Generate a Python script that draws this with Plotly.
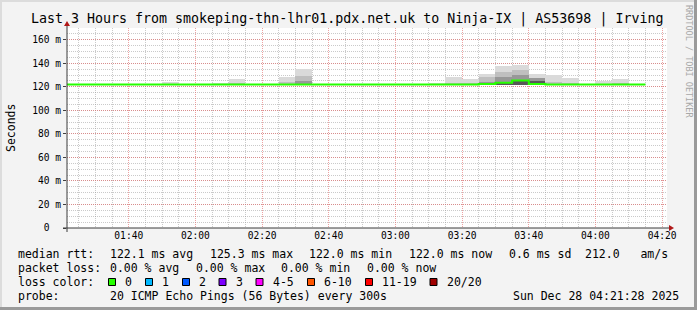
import plotly.graph_objects as go
import pandas as pd

# ---------------- data ----------------
title_text = "Last 3 Hours from smokeping-thn-lhr01.pdx.net.uk to Ninja-IX | AS53698 | Irving"
t_start = "2025-12-28 01:21:28"
t_end = "2025-12-28 04:21:28"
interval_start = pd.date_range("2025-12-28 01:20:00", periods=35, freq="5min")
step_ms = 300000

median_ms = [122.0, 122.0, 122.0, 122.0, 122.0, 122.0, 122.0, 122.0, 122.0, 122.0,
             122.0, 122.0, 122.0, 122.0, 122.0, 122.0, 122.0, 122.0, 122.0, 122.0,
             122.0, 122.0, 122.0, 122.0, 122.0, 122.3, 123.4, 125.3, 122.4, 122.0,
             122.0, 122.0, 122.0, 122.0, 122.0]
smoke_min = [121.8, 121.8, 121.8, 121.8, 121.8, 121.8, 121.8, 121.8, 121.8, 121.8,
             121.8, 121.8, 121.8, 121.8, 121.8, 121.8, 121.8, 121.8, 121.8, 121.8,
             121.8, 121.8, 121.8, 121.8, 121.8, 121.8, 121.8, 121.6, 121.8, 121.8,
             121.8, 121.8, 121.8, 121.8, 121.8]
smoke_max = [122.3, 122.3, 122.3, 122.3, 122.3, 122.3, 123.7, 122.3, 122.3, 123.5,
             126.3, 122.4, 122.4, 128.0, 135.3, 122.5, 122.3, 122.3, 122.3, 122.3,
             122.3, 122.3, 123.0, 128.0, 126.3, 130.5, 137.5, 138.5, 130.8, 130.3,
             127.4, 122.5, 124.8, 126.3, 122.3]
smoke_q2 = [121.8, 121.8, 121.8, 121.8, 121.8, 121.8, 121.8, 121.8, 121.8, 121.8,
            123.5, 121.8, 121.8, 124.0, 129.0, 121.8, 121.8, 121.8, 121.8, 121.8,
            121.8, 121.8, 121.8, 123.5, 123.0, 128.0, 133.0, 134.4, 127.8, 124.0,
            123.0, 121.8, 121.8, 123.0, 121.8]
smoke_q1 = [121.8, 121.8, 121.8, 121.8, 121.8, 121.8, 121.8, 121.8, 121.8, 121.8,
            121.8, 121.8, 121.8, 121.8, 125.0, 121.8, 121.8, 121.8, 121.8, 121.8,
            121.8, 121.8, 121.8, 121.8, 121.8, 124.0, 128.0, 130.0, 127.3, 121.8,
            121.8, 121.8, 121.8, 121.8, 121.8]
smoke_q0 = [121.8, 121.8, 121.8, 121.8, 121.8, 121.8, 121.8, 121.8, 121.8, 121.8,
            121.8, 121.8, 121.8, 121.8, 121.8, 121.8, 121.8, 121.8, 121.8, 121.8,
            121.8, 121.8, 121.8, 121.8, 121.8, 122.0, 123.5, 126.0, 125.0, 121.8,
            121.8, 121.8, 121.8, 121.8, 121.8]

y_tickvals = [0, 20, 40, 60, 80, 100, 120, 140, 160]
y_ticktext = ["0\u00a0\u00a0", "20 m", "40 m", "60 m", "80 m", "100 m", "120 m", "140 m", "160 m"]
y_title = "Seconds"

rtt_label = "median rtt:"
rtt_stats = ["122.1 ms avg", "125.3 ms max", "122.0 ms min", "122.0 ms now", "0.6 ms sd", "212.0\u00a0\u00a0\u00a0am/s"]
loss_label = "packet loss:"
loss_stats = ["0.00 % avg", "0.00 % max", "0.00 % min", "0.00 % now"]
color_label = "loss color:"
loss_names = ["0", "1", "2", "3", "4-5", "6-10", "11-19", "20/20"]
loss_colors = ["#26ff00", "#00b8ff", "#0059ff", "#7e00ff", "#ff00ff", "#ff5500", "#ff0000", "#a10000"]
probe_label = "probe:"
probe_text = "20 ICMP Echo Pings (56 Bytes) every 300s"
stamp_text = "Sun Dec 28 04:21:28 2025"
credit_text = "RRDTOOL / TOBI OETIKER"

# ---------------- layout geometry (pixels) ----------------
W, H = 697, 310
ML, MT, PW, PH = 67, 28, 600, 200
MR = W - ML - PW
MB = H - MT - PH

def px(x):
    return (x - ML) / PW

def py(y):
    return (MT + PH - y) / PH

FONT = "DejaVu Sans Mono"

fig = go.Figure()

smoke_layers = [(smoke_max, "#dadada"), (smoke_q2, "#bfbfbf"), (smoke_q1, "#989898"), (smoke_q0, "#585858")]
for top, col in smoke_layers:
    fig.add_trace(go.Bar(
        x=interval_start, y=[t - b for t, b in zip(top, smoke_min)], base=smoke_min,
        width=step_ms, offset=0, marker_color=col, marker_line_width=0,
        hoverinfo="skip", showlegend=False))

line_x = list(interval_start) + [interval_start[-1] + pd.Timedelta(minutes=5)]
line_y = median_ms + [median_ms[-1]]
fig.add_trace(go.Scatter(x=line_x, y=line_y, mode="lines", line_shape="hv",
                         line=dict(color=loss_colors[0], width=2), showlegend=False,
                         hoverinfo="skip"))

major_grid = "rgba(225,100,100,0.6)"
minor_grid = "rgba(150,150,150,0.5)"

fig.update_layout(
    width=W, height=H,
    margin=dict(l=ML, r=MR, t=MT, b=MB, pad=0),
    paper_bgcolor="#f3f3f3", plot_bgcolor="#ffffff",
    barmode="overlay", bargap=0,
    showlegend=False,
    font=dict(family=FONT, color="#000000"),
    xaxis=dict(type="date", range=[t_start, t_end], tick0="2025-12-28 00:00:00",
               dtick=1200000, tickformat="%H:%M", showgrid=True, gridcolor=major_grid,
               griddash="1px,1px", gridwidth=1, zeroline=False, showline=False,
               ticks="", tickfont=dict(family=FONT, size=9.6, color="#000000"),
               minor=dict(dtick=300000, tick0="2025-12-28 00:00:00", showgrid=True,
                          gridcolor=minor_grid, griddash="1px,1px", gridwidth=1),
               fixedrange=True),
    yaxis=dict(range=[0, 170], tickvals=y_tickvals, ticktext=y_ticktext,
               showgrid=True, gridcolor=major_grid, griddash="1px,1px", gridwidth=1,
               zeroline=False, showline=False, ticks="outside", ticklen=3,
               tickcolor="#404040", tickfont=dict(family=FONT, size=9.6, color="#000000"),
               minor=dict(dtick=5, showgrid=True, gridcolor=minor_grid,
                          griddash="1px,1px", gridwidth=1),
               fixedrange=True),
)

shapes = []
# frame borders
shapes.append(dict(type="rect", xref="paper", yref="paper", x0=px(0), x1=px(W), y0=py(0), y1=py(2),
                   fillcolor="#dcdcdc", line_width=0, layer="above"))
shapes.append(dict(type="rect", xref="paper", yref="paper", x0=px(0), x1=px(2), y0=py(0), y1=py(H),
                   fillcolor="#dcdcdc", line_width=0, layer="above"))
shapes.append(dict(type="rect", xref="paper", yref="paper", x0=px(W - 3), x1=px(W), y0=py(0), y1=py(H),
                   fillcolor="#9a9a9a", line_width=0, layer="above"))
shapes.append(dict(type="rect", xref="paper", yref="paper", x0=px(0), x1=px(W), y0=py(H - 3), y1=py(H),
                   fillcolor="#9a9a9a", line_width=0, layer="above"))
# axes
axis_col = "#3a3a3a"
arrow_col = "#b01818"
shapes.append(dict(type="line", xref="paper", yref="paper", x0=px(ML - 4), x1=px(ML + PW + 4),
                   y0=0, y1=0, line=dict(color=axis_col, width=1), layer="above"))
shapes.append(dict(type="line", xref="paper", yref="paper", x0=0, x1=0,
                   y0=py(MT + PH + 4), y1=py(MT - 4), line=dict(color=axis_col, width=1), layer="above"))
ax_r = ML + PW
shapes.append(dict(type="path", xref="paper", yref="paper",
                   path=f"M {px(ax_r + 2)} {py(MT + PH - 3)} L {px(ax_r + 2)} {py(MT + PH + 3)} L {px(ax_r + 7)} {py(MT + PH)} Z",
                   fillcolor=arrow_col, line_width=0, layer="above"))
shapes.append(dict(type="path", xref="paper", yref="paper",
                   path=f"M {px(ML - 3)} {py(MT - 2)} L {px(ML + 3)} {py(MT - 2)} L {px(ML)} {py(MT - 7)} Z",
                   fillcolor=arrow_col, line_width=0, layer="above"))

# loss colour swatches
box_left = [108.5, 145.5, 182.5, 219, 256, 307.5, 365.5, 430]
for bx, col in zip(box_left, loss_colors):
    shapes.append(dict(type="rect", xref="paper", yref="paper", x0=px(bx), x1=px(bx + 7),
                       y0=py(285.5), y1=py(278.5), fillcolor=col,
                       line=dict(color="#000000", width=1), layer="above"))
fig.update_layout(shapes=shapes)

ann = []
def text(x, y, s, size=11.5, anchor="left", color="#000000", angle=0):
    ann.append(dict(x=px(x), y=py(y), xref="paper", yref="paper", text=s, showarrow=False,
                    xanchor=anchor, yanchor="middle", textangle=angle,
                    font=dict(family=FONT, size=size, color=color)))

text(347, 19, title_text, size=13.3, anchor="center")
text(11, 128, y_title, size=11.5, anchor="center", angle=-90)
text(689, 61, credit_text, size=8.5, anchor="center", color="#a8a8a8", angle=90)

text(16.4, 254.3, rtt_label)
for x, s in zip([108, 208, 306.7, 406.7, 506.7], rtt_stats[:5]):
    text(x, 254.3, s)
text(669.5, 254.3, rtt_stats[5], anchor="right")
text(16.4, 268.3, loss_label)
for x, s in zip([108, 194.2, 279, 365.3], loss_stats):
    text(x, 268.3, s)
text(16.4, 282.3, color_label)
for bx, s in zip(box_left, loss_names):
    text(bx + 14.5, 282.3, s)
text(16.4, 296, probe_label)
text(108, 296, probe_text)
text(680.5, 296, stamp_text, anchor="right")

fig.update_layout(annotations=ann)

fig.write_html("out.html", config={"displayModeBar": False, "staticPlot": True})
